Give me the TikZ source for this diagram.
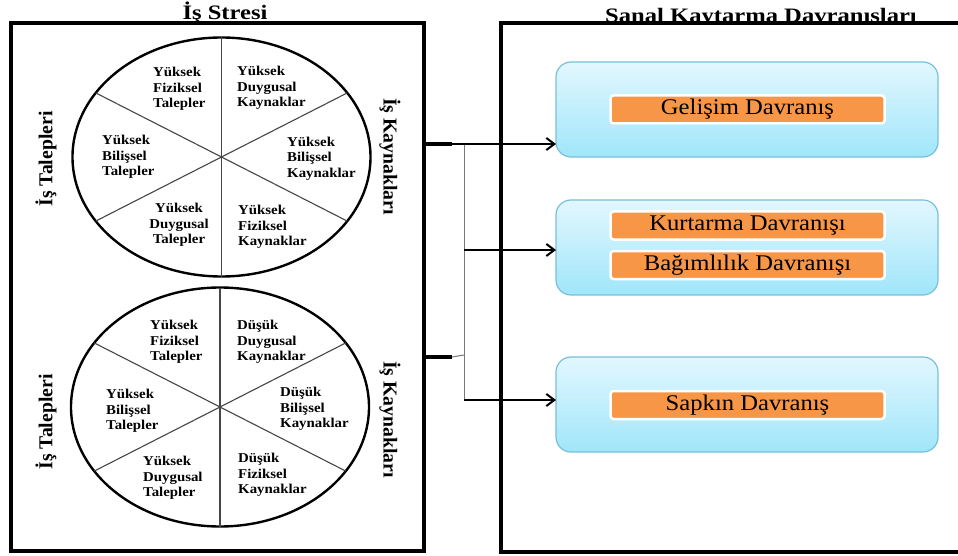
\documentclass[tikz,border=0pt]{standalone}
\usepackage{fontspec}
\setmainfont{Liberation Serif}[FakeStretch=1.1]
\newfontfamily\headfont{Liberation Serif}[FakeStretch=1.2]
\newfontfamily\sidefont{Liberation Serif}
\usetikzlibrary{shapes.geometric, arrows.meta, shadows}

\definecolor{boxtop}{RGB}{226,247,254}
\definecolor{boxbot}{RGB}{160,230,250}
\definecolor{boxedge}{RGB}{120,192,216}
\definecolor{orangefill}{RGB}{247,150,70}
\definecolor{divgray}{RGB}{70,70,70}
\definecolor{trunkgray}{RGB}{120,120,120}

\begin{document}
\begin{tikzpicture}[x=1pt, y=-1pt,
  frame/.style={draw, line width=3.6pt, inner sep=0pt, outer sep=0pt},
  wheel/.style={ellipse, draw, line width=2.4pt, minimum width=298pt,
    minimum height=239pt, inner sep=0pt, outer sep=0pt},
  divider/.style={draw=divgray, line width=1.1pt},
  sector/.style={font=\bfseries\fontsize{13.5}{15.7}\selectfont, align=left,
    anchor=west, inner sep=0pt},
  sectorc/.style={sector, align=center, anchor=center},
  sidelabel/.style={font=\sidefont\bfseries\fontsize{19.7}{22}\selectfont, inner sep=0pt},
  heading/.style={font=\headfont\bfseries\fontsize{20.5}{24}\selectfont,
    inner sep=0pt, anchor=base},
  panel/.style={rounded corners=15pt, draw=boxedge, line width=1.2pt,
    top color=boxtop, bottom color=boxbot, minimum width=382pt,
    minimum height=95pt, inner sep=0pt, outer sep=0pt},
  tag/.style={fill=orangefill, draw=white, line width=2.5pt, rounded corners=3pt,
    minimum width=274pt, minimum height=28pt, inner sep=0pt, outer sep=0pt,
    font=\fontsize{22.4}{24}\selectfont,
    drop shadow={shadow xshift=0.5pt, shadow yshift=-0.8pt, opacity=0.2, fill=black}},
  link/.style={line width=2pt, -{Straight Barb[length=8pt, width=12pt, line width=2pt]}},
  stub/.style={line width=3.6pt},
  trunk/.style={draw=trunkgray, line width=1pt}
]
\clip (0,0) rectangle (958,556);
\fill[white] (0,0) rectangle (958,556);

% ---- left frame: job stress with two wheels ----
\node[heading] (stresstitle) at (225,20) {İş Stresi};
\node[frame, minimum width=413pt, minimum height=528pt] (lbox) at (217.5,287) {};

% upper wheel
\node[wheel] (w1) at (221.5,157) {};
\draw[divider] (w1.north) -- (w1.south);
\draw[divider] (w1.27) -- (w1.207);
\draw[divider] (w1.153) -- (w1.333);
\node[sector] (a1) at (153,89) {Yüksek\\Fiziksel\\Talepler};
\node[sector] (a2) at (237,88) {Yüksek\\Duygusal\\Kaynaklar};
\node[sector] (a3) at (102,157) {Yüksek\\Bilişsel\\Talepler};
\node[sector] (a4) at (287,158.5) {Yüksek\\Bilişsel\\Kaynaklar};
\node[sectorc] (a5) at (179,225) {Yüksek\\Duygusal\\Talepler};
\node[sector] (a6) at (238,227) {Yüksek\\Fiziksel\\Kaynaklar};
\node[sidelabel, rotate=90] (d1) at (46,159) {İş Talepleri};
\node[sidelabel, rotate=-90] (r1) at (390,156.5) {İş Kaynakları};

% lower wheel
\node[wheel] (w2) at (220,407) {};
\draw[divider] (w2.north) -- (w2.south);
\draw[divider] (w2.27) -- (w2.207);
\draw[divider] (w2.153) -- (w2.333);
\node[sector] (b1) at (150,342) {Yüksek\\Fiziksel\\Talepler};
\node[sector] (b2) at (237,342) {Düşük\\Duygusal\\Kaynaklar};
\node[sector] (b3) at (106,411) {Yüksek\\Bilişsel\\Talepler};
\node[sector] (b4) at (280,409) {Düşük\\Bilişsel\\Kaynaklar};
\node[sector] (b5) at (143,478) {Yüksek\\Duygusal\\Talepler};
\node[sector] (b6) at (238,475) {Düşük\\Fiziksel\\Kaynaklar};
\node[sidelabel, rotate=90] (d2) at (46,422) {İş Talepleri};
\node[sidelabel, rotate=-90] (r2) at (390,419.5) {İş Kaynakları};

% ---- right frame: cyberloafing behaviours ----
\node[heading] (loaftitle) at (761,22.5) {Sanal Kaytarma Davranışları};
\node[frame, fill=white, line width=4pt, minimum width=474pt, minimum height=529pt] (rbox) at (738,287.5) {};

\node[panel] (p1) at (747,109.5) {};
\node[panel] (p2) at (747,247.5) {};
\node[panel] (p3) at (747,404.5) {};

\node[tag] (t1) at (747.5,109.5) {Gelişim Davranış};
\node[tag] (t2) at (747.5,225.5) {Kurtarma Davranışı};
\node[tag] (t3) at (747.5,265) {Bağımlılık Davranışı};
\node[tag] (t4) at (747.5,405) {Sapkın Davranış};

% ---- connectors ----
\coordinate (j1) at (464,144);
\coordinate (j2) at (464,250);
\coordinate (j3) at (464,400);
\coordinate (s1) at (452,144);
\coordinate (s2) at (452,357);
\coordinate (k2) at (464,355);

\draw[trunk] (j1) -- (j3);
\draw[stub] (lbox.east |- s1) -- (s1);
\draw[link] (lbox.east |- j1) -- (j1 -| p1.west);
\draw[link] (j2) -- (j2 -| p2.west);
\draw[link] (j3) -- (j3 -| p3.west);
\draw[stub] (lbox.east |- s2) -- (s2);
\draw[trunk] (s2) -- (k2);
\end{tikzpicture}
\end{document}
